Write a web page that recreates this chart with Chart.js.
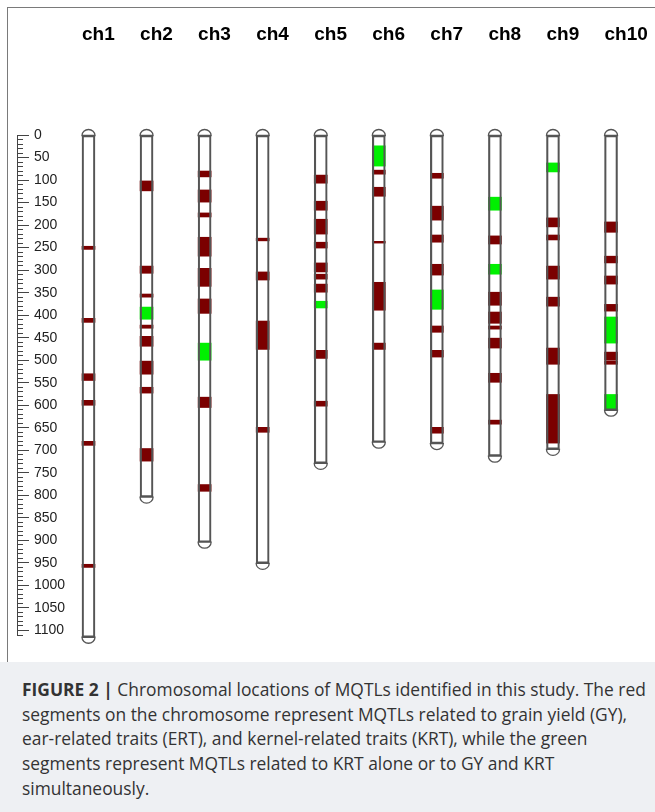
<!DOCTYPE html>
<html>
<head>
<meta charset="utf-8">
<script src="https://cdn.jsdelivr.net/npm/chart.js@4.4.1/dist/chart.umd.min.js"></script>
<style>
  html, body { margin: 0; padding: 0; background: #fff; }
  #wrap { position: relative; width: 655px; height: 812px; overflow: hidden; }
  #frame { position: absolute; left: 7px; top: 7px; width: 700px; height: 700px;
           border-left: 1.5px solid #7a7a7a; border-top: 1.5px solid #7a7a7a; }
  #chart { position: absolute; left: 0; top: 0; }
  #caption { position: absolute; left: 0; top: 662px; width: 655px; height: 150px;
             background: #eef0f3; color: #333; font-family: "Open Sans", "Liberation Sans", Arial, sans-serif;
             font-size: 17.4px; line-height: 24.7px; padding: 15px 0 0 22px; box-sizing: border-box;
             white-space: nowrap; }
  #caption b { font-weight: bold; }
</style>
</head>
<body>
<div id="wrap">
  <div id="frame"></div>
  <canvas id="chart" width="655" height="662"></canvas>
  <div id="caption"><b>FIGURE 2 |</b> Chromosomal locations of MQTLs identified in this study. The red<br>segments on the chromosome represent MQTLs related to grain yield (GY),<br>ear-related traits (ERT), and kernel-related traits (KRT), while the green<br>segments represent MQTLs related to KRT alone or to GY and KRT<br>simultaneously.</div>
</div>
<script>
// Chromosome names and lengths (cM)
const chromosomes = ['ch1', 'ch2', 'ch3', 'ch4', 'ch5', 'ch6', 'ch7', 'ch8', 'ch9', 'ch10'];
const lengths = [1115, 804, 904, 951, 729, 682, 685, 713, 698, 611];

// MQTL intervals for GY / ERT / KRT (red), one list per chromosome
const redSegments = [
  [[247, 254], [407, 416], [530, 545], [589, 600], [680, 689], [953, 960]],
  [[102, 124], [291, 307], [353, 360], [422, 429], [447, 469], [502, 531], [560, 573], [696, 724]],
  [[80, 93], [122, 149], [173, 182], [227, 269], [296, 336], [364, 396], [582, 605], [776, 791]],
  [[229, 235], [304, 322], [413, 476], [649, 660]],
  [[89, 107], [147, 167], [187, 220], [238, 251], [284, 304], [309, 320], [331, 349], [478, 496], [591, 602]],
  [[78, 87], [116, 136], [236, 240], [327, 389], [462, 476]],
  [[85, 96], [158, 189], [222, 238], [287, 311], [424, 438], [478, 493], [649, 662]],
  [[224, 242], [349, 378], [393, 418], [424, 431], [451, 473], [529, 549], [633, 642]],
  [[184, 204], [222, 233], [291, 320], [360, 380], [473, 509], [576, 684]],
  [[193, 216], [269, 284], [313, 331], [376, 391], [482, 500], [502, 509]]
];

// MQTL intervals for KRT alone or GY + KRT (green)
const greenSegments = [
  [],
  [[382, 409]],
  [[462, 500]],
  [],
  [[369, 384]],
  [[24, 69]],
  [[344, 387]],
  [[138, 167], [287, 309]],
  [[62, 82]],
  [[404, 462], [576, 609]]
];

// Axis range and tick spacing (cM)
const yMax = 1110;
const minorStep = 10;
const majorStep = 50;

const toPoints = segs => segs.flatMap((list, i) => list.map(s => ({ x: i, y: s })));
const bodyPoints = lengths.map((len, i) => ({ x: i, y: [0, len] }));

const OUTLINE = '#555';

// Rounded telomere caps at both ends of every chromosome
const capPlugin = {
  id: 'chromosomeCaps',
  afterDatasetsDraw(chart) {
    const meta = chart.getDatasetMeta(0);
    const ctx = chart.ctx;
    ctx.save();
    ctx.strokeStyle = OUTLINE;
    ctx.lineWidth = 1.3;
    ctx.fillStyle = '#fff';
    meta.data.forEach(bar => {
      const p = bar.getProps(['x', 'y', 'base', 'width'], true);
      const top = Math.min(p.y, p.base);
      const bottom = Math.max(p.y, p.base);
      const rx = p.width / 2;
      const ry = rx * 0.92;
      ctx.beginPath();
      ctx.ellipse(p.x, top, rx, ry, 0, Math.PI, 2 * Math.PI);
      ctx.closePath();
      ctx.fill();
      ctx.stroke();
      ctx.beginPath();
      ctx.ellipse(p.x, bottom, rx, ry, 0, 0, Math.PI);
      ctx.closePath();
      ctx.fill();
      ctx.stroke();
    });
    ctx.restore();
  }
};

new Chart(document.getElementById('chart'), {
  type: 'bar',
  data: {
    datasets: [
      { label: 'outline', data: bodyPoints, backgroundColor: 'rgba(0,0,0,0)', borderColor: OUTLINE,
        borderWidth: 1.5, borderSkipped: false, order: 0, clip: false },
      { label: 'GY / ERT / KRT', data: toPoints(redSegments), backgroundColor: '#7b0000', order: 1 },
      { label: 'KRT, GY + KRT', data: toPoints(greenSegments), backgroundColor: '#00f000', order: 1 },
      { label: 'body', data: bodyPoints, backgroundColor: '#fff', order: 3, clip: false }
    ]
  },
  options: {
    responsive: false,
    animation: false,
    datasets: { bar: { grouped: false, barThickness: 13 } },
    plugins: { legend: { display: false }, tooltip: { enabled: false } },
    layout: { padding: { left: 12, right: 10, top: 0, bottom: 27 } },
    scales: {
      x: {
        type: 'linear',
        position: 'top',
        offset: false,
        min: -1.2315,
        max: 9.585,
        // invisible tick marks keep the chromosome names well above the plot
        grid: { display: true, drawOnChartArea: false, drawTicks: true, tickLength: 89,
                tickColor: 'rgba(0,0,0,0)', offset: false },
        border: { display: false },
        afterBuildTicks: s => { s.ticks = chromosomes.map((c, i) => ({ value: i })); },
        afterFit: s => { s.height = 135; s.paddingLeft = 0; s.paddingRight = 0; },
        ticks: {
          autoSkip: false,
          maxRotation: 0,
          align: 'start',
          labelOffset: -6.5,
          padding: 0,
          color: '#000',
          font: { family: '"Liberation Sans", Arial, sans-serif', size: 19, weight: 'bold' },
          callback: v => chromosomes[v] ?? ''
        }
      },
      y: {
        type: 'linear',
        position: 'left',
        reverse: true,
        min: 0,
        max: yMax,
        border: { display: true, color: '#444', width: 1 },
        afterFit: s => { s.width = 5; },
        grid: {
          drawOnChartArea: false,
          drawTicks: true,
          tickLength: -12,
          tickColor: '#444',
          tickWidth: 1,
          tickBorderDash: c => (c.tick && c.tick.value % majorStep === 0) ? [] : [6, 6],
          tickBorderDashOffset: c => (c.tick && c.tick.value % majorStep === 0) ? 0 : 6
        },
        ticks: {
          stepSize: minorStep,
          autoSkip: false,
          mirror: true,
          padding: 17,
          color: '#222',
          font: { family: '"Liberation Sans", Arial, sans-serif', size: 14 },
          callback: v => (v % majorStep === 0) ? String(v) : ''
        }
      }
    }
  },
  plugins: [capPlugin]
});
</script>
</body>
</html>
